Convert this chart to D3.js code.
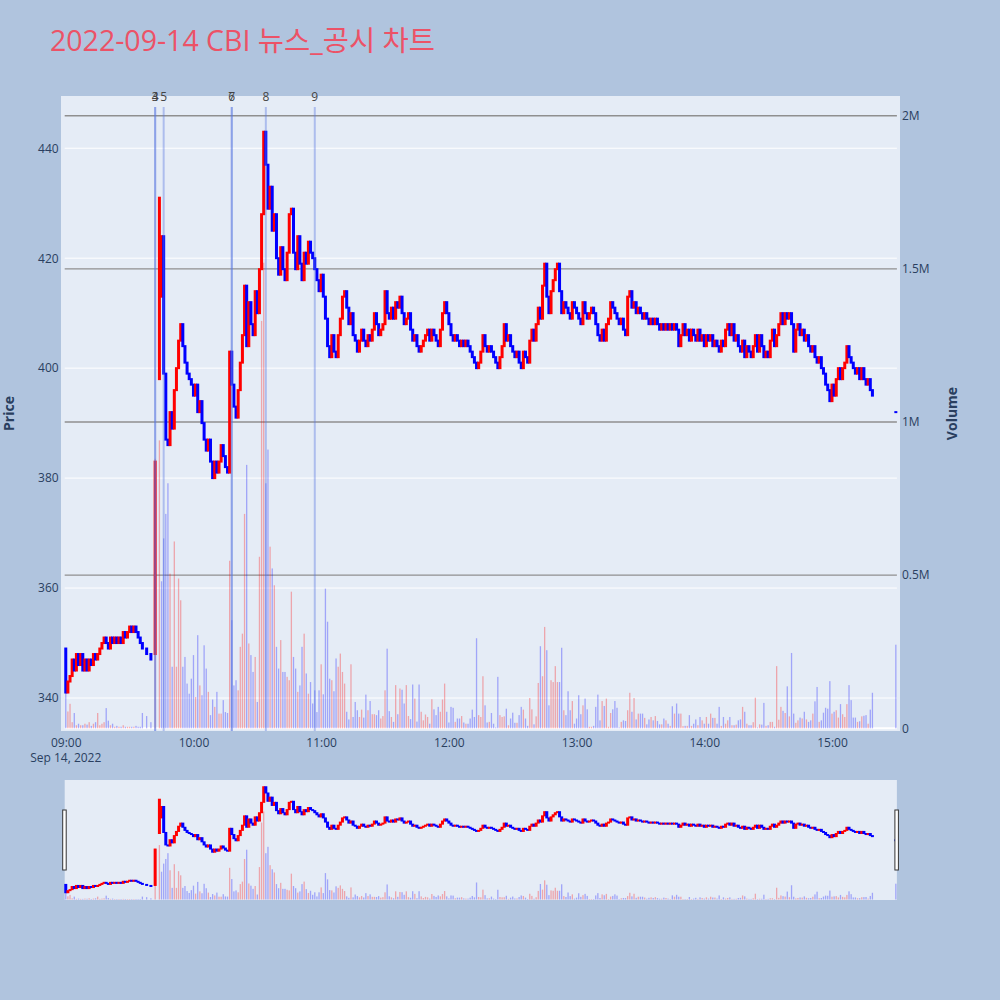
<!DOCTYPE html>
<html><head><meta charset="utf-8">
<script src="https://cdn.jsdelivr.net/npm/d3@7"></script>
<style>
body{margin:0;background:#B0C4DE;}
text{font-family:"Open Sans",verdana,arial,"Noto Sans CJK KR",sans-serif;}
</style>
</head><body>
<svg id="c" width="1000" height="1000"></svg>
<script>
// ---- DATA (one candle per trading minute from 09:00; null = no trade) ----
const closes = [
341,343,344,347,345,348,346,348,345,347,
345,347,346,348,347,348,349,350,351,350,
349,351,350,351,350,351,350,352,351,352,
353,352,353,352,351,350,349,null,348,null,
347,null,383,null,431,424,399,387,386,392,
389,396,400,405,408,404,401,399,398,397,
395,397,392,394,390,387,385,387,383,380,
383,381,383,386,384,382,381,403,397,393,
391,396,401,406,415,404,412,408,406,414,
410,418,428,443,437,429,433,425,428,420,
417,422,418,416,421,428,429,421,418,424,
419,416,421,419,423,421,420,418,416,414,
417,413,409,404,402,406,403,402,406,409,
413,414,411,408,410,406,405,403,405,407,
405,404,406,405,407,410,408,406,407,408,
414,410,409,411,409,412,411,413,410,408,
409,410,407,405,406,404,403,404,405,406,
407,405,407,406,405,404,407,410,412,410,
408,406,405,406,405,404,405,404,405,404,
403,402,401,400,401,403,406,404,403,404,
403,402,401,400,402,404,408,405,406,404,
403,402,403,401,400,403,402,401,405,407,
405,408,411,409,415,419,413,410,414,416,
418,419,414,410,412,411,410,409,412,411,
410,409,408,412,410,409,410,411,410,408,
406,405,407,405,408,409,412,411,410,409,
408,409,407,406,413,414,411,412,410,411,
410,409,410,409,408,409,408,409,408,407,
408,407,408,407,408,407,408,407,404,406,
408,406,407,405,407,406,405,407,405,406,
404,406,405,406,404,405,404,403,405,404,
407,408,406,408,405,406,404,403,405,402,
404,403,402,404,406,403,406,404,402,403,
402,405,407,404,406,408,410,408,410,409,
410,408,403,407,408,406,407,405,406,404,
403,404,402,401,402,400,399,397,396,394,
397,395,398,400,398,400,401,404,402,401,
400,399,400,398,400,398,397,398,396,395,
null,null,null,null,null,null,null,null,null,null,
392
];
// opening prices that differ from the previous close (auction / gap minutes)
const openOverrides = {0:349, 42:348, 44:398, 45:413, 390:392};
// traded volume per minute, thousands of shares
const volumes = [
135,55,80,20,50,10,15,10,10,15,
12,20,8,15,20,50,10,15,20,66,
25,10,15,5,8,5,5,10,5,5,
5,5,5,8,5,5,50,null,40,null,
20,null,880,null,940,480,620,700,800,505,
201,610,201,489,418,201,233,146,113,162,
239,102,304,140,108,271,195,119,43,94,
70,119,48,48,92,53,50,547,353,140,
157,124,266,309,700,860,277,239,184,233,
86,560,1330,1520,800,910,593,522,467,266,
195,288,184,184,168,157,446,233,195,119,
140,266,309,179,113,151,81,124,53,124,
209,111,456,348,162,157,121,228,201,244,
184,146,54,29,209,37,86,59,37,61,
35,110,59,89,46,46,43,59,32,40,
124,260,56,37,21,141,46,130,126,81,
141,40,30,143,97,22,143,54,26,45,
37,15,95,62,43,70,54,94,146,54,
19,70,67,21,32,32,40,19,15,15,
32,61,37,294,43,37,170,75,19,21,
50,15,3,168,43,37,39,64,10,32,
51,18,18,43,70,61,32,8,99,62,
13,39,148,268,170,331,255,75,157,151,
203,151,151,263,59,43,121,59,89,15,
32,108,46,75,97,62,5,5,8,70,
110,26,89,73,97,5,50,62,89,67,
3,21,26,24,59,116,54,99,29,48,
48,48,34,13,29,37,26,40,24,13,
13,32,26,15,8,72,48,81,48,48,
7,8,8,43,8,15,29,10,37,26,
15,37,15,48,34,34,15,70,8,37,
15,26,37,10,10,12,26,29,70,54,
15,10,10,20,100,3,13,12,83,8,
10,21,21,5,203,28,70,57,50,137,
39,246,48,18,26,35,32,54,29,21,
26,48,88,135,21,26,51,67,64,154,
48,54,59,35,79,46,37,79,141,92,
35,35,21,23,39,41,43,15,61,116,
null,null,null,null,null,null,null,null,null,null,
273
];
const newsLabels = ["3","4","5","6","7","8","9"];
const newsTimes  = ["09:42","09:42","09:46","10:18","10:18","10:34","10:57"];
const priceTicks = [340,360,380,400,420,440];
const volumeTicks = [0,500000,1000000,1500000,2000000];
const volumeTickLabels = ["0","0.5M","1M","1.5M","2M"];
const titleText = "2022-09-14 CBI 뉴스_공시 차트";

// ---- build records ----
const day = (h,m,s=0) => new Date(2022,8,14,h,m,s);
const candles = [];
let prevClose = null;
closes.forEach((c,i) => {
  if (c == null) return;
  const o = (openOverrides[i] !== undefined) ? openOverrides[i] : prevClose;
  candles.push({t: day(9, i), o, c, v: volumes[i] == null ? 0 : volumes[i]*1000,
                up: c > o, volUp: prevClose == null ? false : c > prevClose});
  prevClose = c;
});

const svg = d3.select('#c');
svg.append('rect').attr('width',1000).attr('height',1000).attr('fill','#B0C4DE');
svg.append('rect').attr('x',61).attr('y',96).attr('width',839).attr('height',635).attr('fill','#E5ECF6');

const x = d3.scaleTime().domain([day(8,59,30), day(15,30,30)]).range([64.7,896.9]);
const y = d3.scaleLinear().domain([334,449.5]).range([731,96]);
const yv = d3.scaleLinear().domain([-8800,2064300]).range([731,96]);
const [x0,x1] = x.range();

// price gridlines (white)
svg.append('g').selectAll('line').data(priceTicks).join('line')
  .attr('x1',x0).attr('x2',x1).attr('y1',d=>y(d)).attr('y2',d=>y(d))
  .attr('stroke','#fff').attr('stroke-width',1);
// volume gridlines (gray)
svg.append('g').selectAll('line').data(volumeTicks.slice(1)).join('line')
  .attr('x1',x0).attr('x2',x1).attr('y1',d=>yv(d)).attr('y2',d=>yv(d))
  .attr('stroke','#8f8f8f').attr('stroke-width',1.4);
svg.append('line').attr('x1',x0).attr('x2',x1).attr('y1',yv(0)).attr('y2',yv(0))
  .attr('stroke','#fff').attr('stroke-width',2);

function drawMarks(g, ys, yvs, minH, extra, cw){
  g.append('g').selectAll('rect').data(candles.filter(d=>d.v>0)).join('rect')
    .attr('x',d=>x(d.t)-0.65).attr('width',1.3)
    .attr('y',d=>yvs(d.v)).attr('height',d=>Math.max(0.5,yvs(0)-yvs(d.v)))
    .attr('fill',d=>d.volUp?'rgba(255,0,0,0.3)':'rgba(0,0,255,0.3)');
  g.append('g').selectAll('rect').data(candles).join('rect')
    .attr('x',d=>x(d.t)-cw/2).attr('width',cw)
    .attr('y',d=>Math.min(ys(d.o),ys(d.c))-extra/2)
    .attr('height',d=>Math.max(minH,Math.abs(ys(d.o)-ys(d.c))+extra))
    .attr('fill',d=>d.up?'#ff0000':'#0000ff');
}
drawMarks(svg.append('g'), y, yv, 2, 2, 3);

// news lines
const parseT = s => { const [h,m] = s.split(':').map(Number); return day(h,m); };
const news = newsTimes.map((s,i)=>({t:parseT(s), label:newsLabels[i]}));
svg.append('g').selectAll('line').data(news).join('line')
  .attr('x1',d=>x(d.t)).attr('x2',d=>x(d.t)).attr('y1',107).attr('y2',731)
  .attr('stroke','rgba(90,120,225,0.4)').attr('stroke-width',2);
svg.append('g').selectAll('text').data(news).join('text')
  .attr('x',d=>x(d.t)).attr('y',100.5).attr('text-anchor','middle')
  .attr('font-size',12).attr('fill','#444').text(d=>d.label);

// axes
const styleAxis = g => { g.select('.domain').remove();
  g.selectAll('text').attr('fill','#2a3f5f').attr('font-size',12)
   .style('font-family','"Open Sans",verdana,arial,sans-serif'); };
svg.append('g').attr('transform',`translate(${x0},0)`)
  .call(d3.axisLeft(y).tickValues(priceTicks).tickSize(0).tickPadding(6)).call(styleAxis);
svg.append('g').attr('transform',`translate(${x1},0)`)
  .call(d3.axisRight(yv).tickValues(volumeTicks).tickSize(0).tickPadding(5)
        .tickFormat((d,i)=>volumeTickLabels[i])).call(styleAxis);
svg.append('g').attr('transform','translate(0,731)')
  .call(d3.axisBottom(x).ticks(d3.timeHour.every(1)).tickSize(0).tickPadding(7)
        .tickFormat(d3.timeFormat('%H:%M'))).call(styleAxis);
svg.append('text').attr('x',x(day(9,0))).attr('y',762).attr('text-anchor','middle')
  .attr('font-size',12).attr('fill','#2a3f5f').text('Sep 14, 2022');

// axis titles
svg.append('text').attr('transform','translate(14,413.5) rotate(-90)').attr('text-anchor','middle')
  .attr('font-size',14).attr('font-weight','bold').attr('fill','#2a3f5f').text('Price');
svg.append('text').attr('transform','translate(957,413.5) rotate(-90)').attr('text-anchor','middle')
  .attr('font-size',14).attr('font-weight','bold').attr('fill','#2a3f5f').text('Volume');

// title
svg.append('text').attr('x',50).attr('y',50.5).attr('font-size',28.5)
  .attr('fill','rgb(236,82,103)').text(titleText);

// range slider
const ys = d3.scaleLinear().domain([334,449.5]).range([900,780]);
const yvs = d3.scaleLinear().domain([-8800,2064300]).range([900,780]);
svg.append('rect').attr('x',x0).attr('y',780).attr('width',x1-x0).attr('height',120).attr('fill','#E5ECF6');
drawMarks(svg.append('g'), ys, yvs, 2, 1, 3);
[x0-2, x1-2].forEach(hx => svg.append('rect').attr('x',hx).attr('y',810).attr('width',3.5).attr('height',60)
  .attr('fill','#fff').attr('stroke','#333').attr('stroke-width',1));
</script>
</body></html>
